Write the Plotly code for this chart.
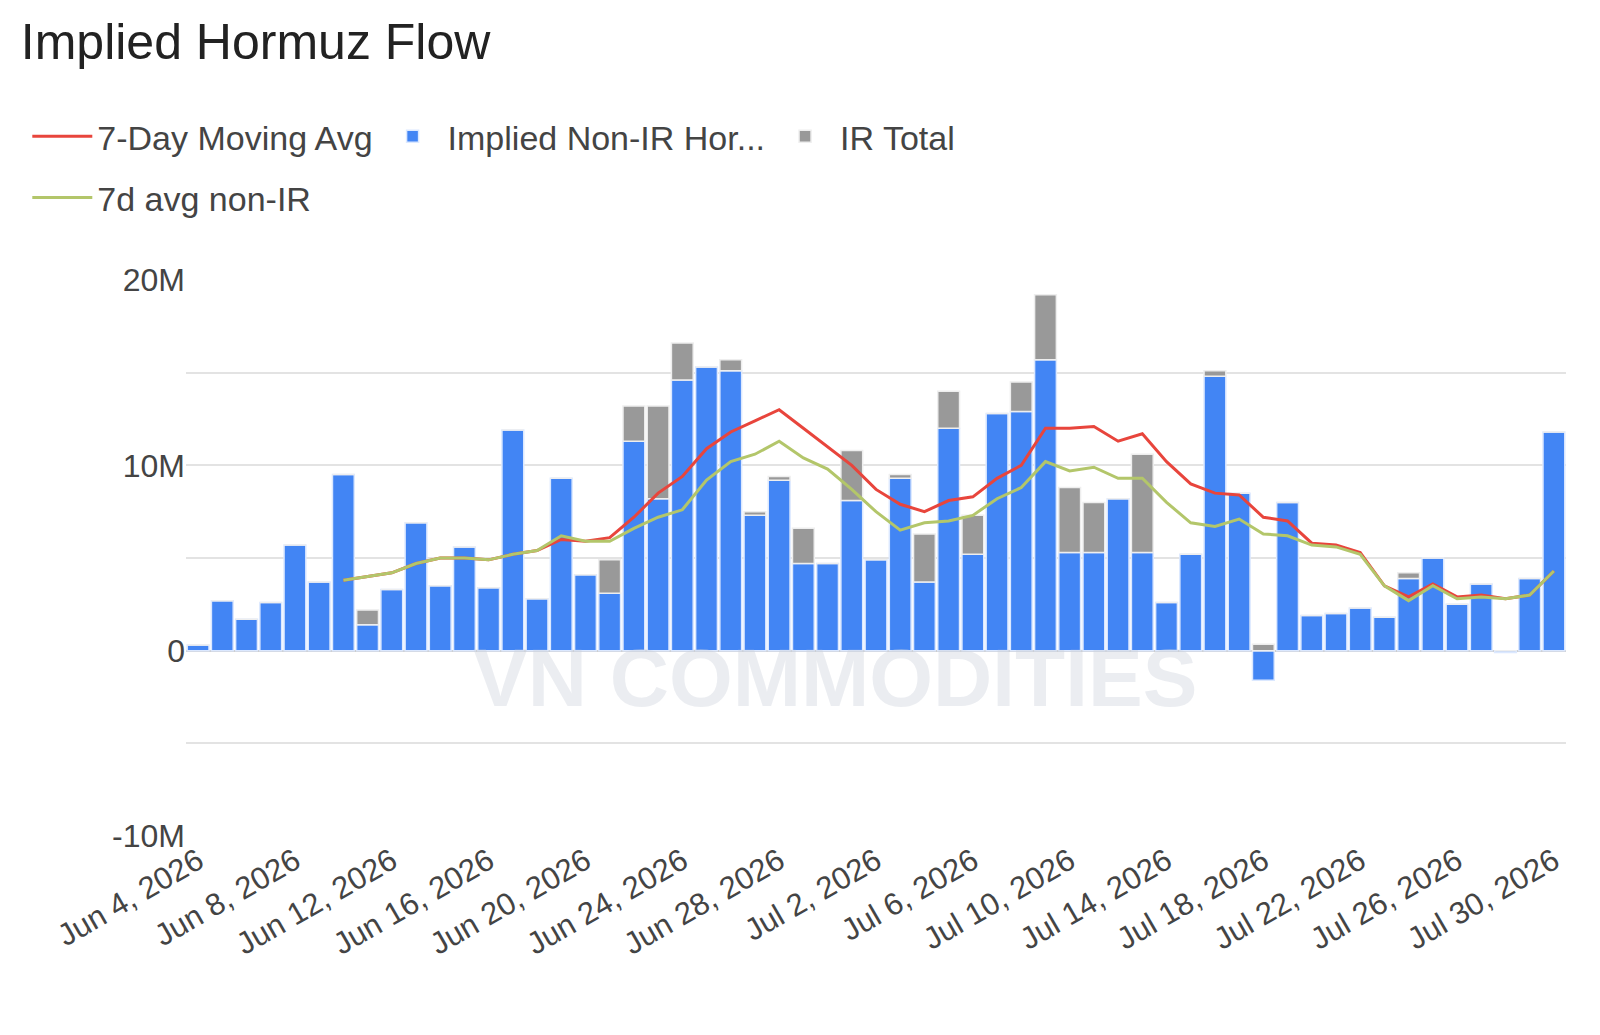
import pandas as pd
import plotly.graph_objects as go

dates = pd.date_range("2026-06-04", "2026-07-30", freq="D")

# implied non-IR flow (millions)
non_ir = [0.3, 2.7, 1.7, 2.6, 5.7, 3.7, 9.5, 1.4, 3.3, 6.9,
          3.5, 5.6, 3.4, 11.9, 2.8, 9.3, 4.1, 3.1, 11.3, 8.2,
          14.6, 15.3, 15.1, 7.3, 9.2, 4.7, 4.7, 8.1, 4.9, 9.3,
          3.7, 12.0, 5.2, 12.8, 12.9, 15.7, 5.3, 5.3, 8.2, 5.3,
          2.6, 5.2, 14.8, 8.5, -1.6, 8.0, 1.9, 2.0, 2.3, 1.8,
          3.9, 5.0, 2.5, 3.6, -0.1, 3.9, 11.8]
ir_total = [0, 0, 0, 0, 0, 0, 0, 0.8, 0, 0,
            0, 0, 0, 0, 0, 0, 0, 1.8, 1.9, 5.0,
            2.0, 0, 0.6, 0.2, 0.2, 1.9, 0, 2.7, 0, 0.2,
            2.6, 2.0, 2.1, 0, 1.6, 3.5, 3.5, 2.7, 0, 5.3,
            0, 0, 0.3, 0, 0.35, 0, 0, 0, 0, 0,
            0.3, 0, 0, 0, 0, 0, 0]
ma7 = [None] * 6 + [3.8, 4.0, 4.2, 4.7, 5.0, 5.0, 4.9, 5.2, 5.4, 6.0,
       5.9, 6.1, 7.2, 8.5, 9.4, 10.9, 11.8, 12.4, 13.0, 12.0,
       11.0, 10.0, 8.7, 7.9, 7.5, 8.1, 8.3, 9.3, 10.0, 12.0,
       12.0, 12.1, 11.3, 11.7, 10.2, 9.0, 8.5, 8.4, 7.2, 7.0,
       5.8, 5.7, 5.3, 3.5, 2.9, 3.6, 2.9, 3.0, 2.8, 3.0, 4.3]
ma7_non_ir = [None] * 6 + [3.8, 4.0, 4.2, 4.7, 5.0, 5.0, 4.9, 5.2, 5.4, 6.2,
              5.9, 5.9, 6.6, 7.2, 7.6, 9.2, 10.2, 10.6, 11.3, 10.4,
              9.8, 8.7, 7.5, 6.5, 6.9, 7.0, 7.3, 8.2, 8.8, 10.2,
              9.7, 9.9, 9.3, 9.3, 8.0, 6.9, 6.7, 7.1, 6.3, 6.2,
              5.7, 5.6, 5.2, 3.5, 2.7, 3.5, 2.8, 2.9, 2.8, 3.0, 4.3]

M = 1e6
scale = lambda v: [None if x is None else x * M for x in v]

fig = go.Figure()
fig.add_trace(go.Scatter(x=dates, y=scale(ma7), name="7-Day Moving Avg", mode="lines",
                         line=dict(color="#e8453c", width=3)))
fig.add_trace(go.Bar(x=dates, y=scale(non_ir), name="Implied Non-IR Hor...",
                     marker=dict(color="#4285f4", line=dict(color="#dbe8ff", width=1.5))))
fig.add_trace(go.Bar(x=dates, y=scale(ir_total), name="IR Total",
                     marker=dict(color="#999999", line=dict(color="#eeeeee", width=1.5))))
fig.add_trace(go.Scatter(x=dates, y=scale(ma7_non_ir), name="7d avg non-IR", mode="lines",
                         line=dict(color="#b3c66a", width=3), legend="legend2"))

fig.add_annotation(text="<b>VN COMMODITIES</b>", xref="paper", yref="paper", x=0.47, y=0.2,
                   showarrow=False, font=dict(size=82, color="rgba(205,210,220,0.4)",
                                              family="Liberation Sans"))

legend_font = dict(size=34, color="#444444")
fig.update_layout(
    width=1600, height=1035,
    barmode="relative", bargap=0.1,
    plot_bgcolor="white", paper_bgcolor="white",
    font=dict(family="Liberation Sans, Arial", size=32, color="#444444"),
    title=dict(text="Implied Hormuz Flow", x=0.008, y=0.985, yanchor="top",
               font=dict(size=50, color="#222222")),
    margin=dict(l=178, r=42, t=272, b=207),
    legend=dict(orientation="h", x=-0.115, y=1.31, yanchor="top", traceorder="normal",
                font=legend_font, itemwidth=60),
    legend2=dict(orientation="h", x=-0.115, y=1.2, yanchor="top",
                 font=legend_font, itemwidth=60),
    showlegend=True,
)
fig.update_xaxes(tickformat="%b %-d, %Y", dtick=4 * 86400000, tick0="2026-06-04",
                 tickangle=-30, showgrid=False, range=["2026-06-03 12:00", "2026-07-30 12:00"],
                 ticks="", tickfont=dict(size=31))
fig.update_yaxes(range=[-10 * M, 20 * M], tickvals=[-10 * M, -5 * M, 0, 5 * M, 10 * M, 15 * M, 20 * M],
                 ticktext=["-10M", "", "0", "", "10M", "", "20M"], gridcolor="#e3e3e3", gridwidth=2,
                 zeroline=True, zerolinecolor="#cccccc", zerolinewidth=2, tickfont=dict(size=32))

fig.write_html("out.html")
